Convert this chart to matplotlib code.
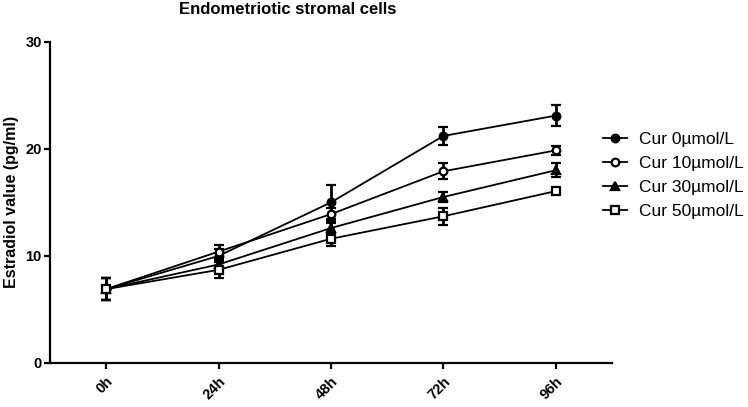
import matplotlib
matplotlib.use('Agg')
import matplotlib.pyplot as plt
from matplotlib.lines import Line2D

plt.rcParams['font.family'] = ['Liberation Sans', 'DejaVu Sans']

# Dados
tempos = ['0h', '24h', '48h', '72h', '96h']
cur0 = [6.9, 10.0, 15.0, 21.2, 23.1]
cur0_err = [1.0, 0.6, 1.6, 0.85, 0.95]
cur10 = [6.9, 10.4, 13.9, 17.9, 19.85]
cur10_err = [1.0, 0.6, 0.6, 0.75, 0.45]
cur30 = [6.9, 9.2, 12.6, 15.5, 18.0]
cur30_err = [1.0, 0.5, 0.5, 0.5, 0.65]
cur50 = [6.9, 8.7, 11.6, 13.7, 16.05]
cur50_err = [1.0, 0.8, 0.65, 0.8, 0.25]
legendas = ['Cur 0µmol/L', 'Cur 10µmol/L', 'Cur 30µmol/L', 'Cur 50µmol/L']

fig = plt.figure(figsize=(7.48, 4.07), dpi=100)
ax = fig.add_axes([50 / 748, 1 - 363 / 407, 562 / 748, (363 - 41.7) / 407])

x = list(range(len(tempos)))
series = [
    (cur0, cur0_err, 'o', 'black'),
    (cur10, cur10_err, 'o', 'white'),
    (cur30, cur30_err, '^', 'black'),
    (cur50, cur50_err, 's', 'white'),
]
handles = []
for vals, errs, mk, fc in series:
    ax.errorbar(x, vals, yerr=errs, color='black', lw=1.3, marker=mk,
                markersize=5.5, markerfacecolor=fc, markeredgecolor='black',
                markeredgewidth=1.6, capsize=3.5, capthick=2, elinewidth=2)
    handles.append(Line2D([], [], color='black', lw=1.3, marker=mk, markersize=5.5,
                          markerfacecolor=fc, markeredgecolor='black', markeredgewidth=1.6))

ax.set_xlim(-0.5, 4.5)
ax.set_ylim(0, 30)
ax.set_yticks([0, 10, 20, 30])
ax.set_xticks(x)
ax.set_xticklabels(tempos, rotation=45, ha='right', rotation_mode='anchor')
for lab in ax.get_xticklabels() + ax.get_yticklabels():
    lab.set_fontweight('bold')
    lab.set_fontsize(10.5)

for s in ['top', 'right']:
    ax.spines[s].set_visible(False)
for s in ['left', 'bottom']:
    ax.spines[s].set_linewidth(1.6)
ax.tick_params(direction='out', length=4, width=1.6, pad=2)
ax.tick_params(axis='x', pad=4)

fig.text(12 / 748, 1 - 202 / 407, 'Estradiol value (pg/ml)', rotation=90,
         ha='center', va='center', fontsize=11.5, fontweight='bold')
fig.text(288 / 748, 1 - 10 / 407, 'Endometriotic stromal cells', ha='center', va='center',
         fontsize=12, fontweight='bold')

fig.legend(handles=handles, labels=legendas, loc='upper left',
           bbox_to_anchor=(603 / 748, 1 - 132 / 407), frameon=False, fontsize=12.5,
           handlelength=1.4, handletextpad=0.7, labelspacing=0.5,
           borderpad=0, borderaxespad=0)

fig.savefig('out.png', dpi=100)
